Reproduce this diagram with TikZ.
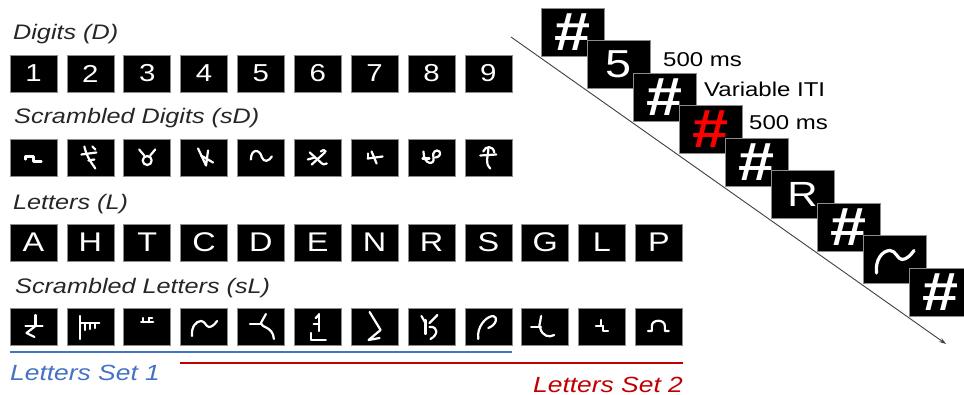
\documentclass[tikz,border=0pt]{standalone}
\usepackage{fontspec}
\setmainfont{Liberation Sans}[FakeStretch=1.2]
\usetikzlibrary{arrows.meta}
\definecolor{setblue}{HTML}{4472C4}
\definecolor{setred}{HTML}{C00000}
\definecolor{boxedge}{HTML}{8C8C8C}
\definecolor{labelgray}{HTML}{262626}
\definecolor{arrowgray}{HTML}{404040}
\newcommand\hashsign{\fontsize{54}{54}\selectfont\bfseries\#}
\begin{document}
\begin{tikzpicture}[x=1pt,y=-1pt,
  stim/.style={fill=black,draw=boxedge,line width=0.6pt,minimum width=47pt,minimum height=37pt,inner sep=0pt,text=white},
  digitstim/.style={stim,font=\fontsize{24.5}{25}\selectfont},
  letterstim/.style={stim,font=\fontsize{27}{27}\selectfont},
  tstim/.style={fill=black,draw=boxedge,line width=0.6pt,minimum width=63pt,minimum height=48pt,inner sep=0pt,text=white},
  rowlabel/.style={anchor=base west,inner sep=0pt,text=labelgray,font=\fontsize{21}{25}\selectfont\itshape},
  setlabel/.style={anchor=base west,inner sep=0pt,font=\fontsize{22}{25}\selectfont\itshape},
  timelabel/.style={anchor=base west,inner sep=0pt,text=black,font=\fontsize{20}{24}\selectfont},
  glyph/.style={draw=white,line width=2.2pt,line cap=round,line join=round},
  bigglyph/.style={draw=white,line width=3.2pt,line cap=round,line join=round},
  % scrambled digits
  gdA/.pic={\draw[glyph] (-8,2)--(-8,-1)--(0,-1)--(0,4)--(8,4);},
  gdB/.pic={\draw[glyph] (-6,-11) .. controls (-4,-2) and (0,4) .. (5,11);
            \draw[glyph] (-9,-3) -- (6,-5);
            \draw[glyph] (2,-11) -- (5,-8);
            \draw[glyph] (-2,3) -- (4,2);},
  gdC/.pic={\draw[glyph] (-8,-8)--(-3,-2); \draw[glyph] (8,-8)--(3,-2);
            \draw[glyph] (0,3) circle (4.5);},
  gdD/.pic={\draw[glyph] (-6,-9)--(2,8)--(4,-7); \draw[glyph] (-3,-2)--(9,5);},
  gdE/.pic={\draw[glyph] (-10,2) .. controls (-10,-9) and (-1,-9) .. (1,0) .. controls (3,5) and (8,4) .. (11,-1);},
  gdF/.pic={\draw[glyph] (-8,-5) -- (2,4) .. controls (5,7) and (7,8) .. (9,6);
            \draw[glyph] (-6,7) -- (7,-5);
            \draw[glyph] (-10,2) -- (-3,0);
            \draw[glyph] (3,-6) .. controls (5,-8) and (7,-8) .. (8,-6);},
  gdG/.pic={\draw[glyph] (-7,1)--(8,-1); \draw[glyph] (-3,-6)--(2,6); \draw[glyph] (-7,-4)--(-7,1);},
  gdH/.pic={\draw[glyph] (-8,-6) .. controls (-8,8) and (4,8) .. (2,0) .. controls (0,-5) and (5,-9) .. (8,-6) .. controls (10,-3) and (7,0) .. (4,0);
            \draw[glyph] (-9,1) -- (-2,1);},
  gdI/.pic={\draw[glyph] (-5,-6) .. controls (-3,-12) and (5,-12) .. (6,-5);
            \draw[glyph] (-8,-2)--(8,-3);
            \draw[glyph] (0,-9) .. controls (0,0) and (-4,5) .. (2,11);},
  % scrambled letters
  glA/.pic={\draw[glyph] (2,-12)--(2,-1); \draw[glyph] (-8,-1)--(9,-1); \draw[glyph] (2,-1)--(-7,6)--(1,10);},
  glB/.pic={\draw[glyph] (-10,-11)--(-10,12); \draw[glyph] (-10,-4)--(9,-4);
            \draw[glyph] (-5,-4)--(-5,3); \draw[glyph] (0,-4)--(0,2); \draw[glyph] (5,-4)--(5,1);},
  glC/.pic={\draw[glyph] (-6,-5)--(6,-5); \draw[glyph] (-4,-9)--(-4,-5); \draw[glyph] (2,-9)--(2,-5); \draw[glyph] (2,-9)--(5,-9);},
  glD/.pic={\draw[glyph] (-12,9) .. controls (-13,0) and (-8,-6) .. (-3,-6) .. controls (1,-6) and (2,0) .. (5,0) .. controls (8,0) and (11,-3) .. (13,-6);},
  glE/.pic={\draw[glyph] (-11,-3)--(0,-3); \draw[glyph] (5,-13) -- (0,-4) .. controls (0,1) and (12,-1) .. (13,12);},
  glF/.pic={\draw[glyph] (1,-13)--(1,4); \draw[glyph] (-2,-9)--(1,-12); \draw[glyph] (-4,-3)--(1,-3);
            \draw[glyph] (-7,6)--(-7,13)--(8,13);},
  glG/.pic={\draw[glyph] (-5,-15)--(6,3)--(-6,13)--(5,11);},
  glH/.pic={\draw[glyph] (-10,-11)--(-6,-4); \draw[glyph] (-6,-7)--(-6,7); \draw[glyph] (6,-12)--(-2,-4);
            \draw[glyph] (-2,0) .. controls (7,-1) and (7,8) .. (-1,12);},
  glI/.pic={\draw[glyph] (-10,12) .. controls (-12,0) and (-2,-11) .. (5,-11) .. controls (10,-10) and (8,-2) .. (0,1);},
  glJ/.pic={\draw[glyph] (-4,-11)--(-6,0); \draw[glyph] (-14,0)--(-4,0); \draw[glyph] (-5,1) .. controls (-3,9) and (4,11) .. (9,8);},
  glK/.pic={\draw[glyph] (-6,-1)--(1,-1); \draw[glyph] (-1,-7)--(-1,-1); \draw[glyph] (1,-1)--(1,4)--(6,4);},
  glL/.pic={\draw[glyph] (-11,4)--(-7,4)--(-7,-1) .. controls (-7,-8) and (6,-8) .. (6,-1) -- (6,4)--(10,4);},
  glDbig/.pic={\draw[bigglyph] (-12,9) .. controls (-13,0) and (-8,-6) .. (-3,-6) .. controls (1,-6) and (2,0) .. (5,0) .. controls (8,0) and (11,-3) .. (13,-6);}
]
\clip (0,0) rectangle (964,395);
\fill[white] (0,0) rectangle (964,395);

% ---------- left panel ----------
\node[rowlabel] (labD) at (13,39.5) {Digits (D)};
\foreach \t [count=\i from 0] in {1,2,3,4,5,6,7,8,9}
  \node[digitstim] (d\i) at ({33.5+56.85*\i},73.5) {\t};

\node[rowlabel] (labsD) at (14,124) {Scrambled Digits (sD)};
\foreach \i in {0,...,8}
  \node[stim] (sd\i) at ({33.5+56.85*\i},157.5) {};
\pic at (sd0) {gdA};
\pic at (sd1) {gdB};
\pic at (sd2) {gdC};
\pic at (sd3) {gdD};
\pic at (sd4) {gdE};
\pic at (sd5) {gdF};
\pic at (sd6) {gdG};
\pic at (sd7) {gdH};
\pic at (sd8) {gdI};

\node[rowlabel] (labL) at (13,210) {Letters (L)};
\foreach \t [count=\i from 0] in {A,H,T,C,D,E,N,R,S,G,L,P}
  \node[letterstim] (l\i) at ({33.5+56.85*\i},242.5) {\t};

\node[rowlabel] (labsL) at (15,294) {Scrambled Letters (sL)};
\foreach \i in {0,...,11}
  \node[stim] (sl\i) at ({33.5+56.85*\i},327) {};
\pic at (sl0) {glA};
\pic at (sl1) {glB};
\pic at (sl2) {glC};
\pic at (sl3) {glD};
\pic at (sl4) {glE};
\pic at (sl5) {glF};
\pic at (sl6) {glG};
\pic at (sl7) {glH};
\pic at (sl8) {glI};
\pic at (sl9) {glJ};
\pic at (sl10) {glK};
\pic at (sl11) {glL};

\coordinate (b0) at (10,352);
\coordinate (b1) at (512,352);
\coordinate (r0) at (180,363);
\coordinate (r1) at (683,363);
\draw[setblue,line width=1.6pt] (b0) -- (b1);
\draw[setred,line width=1.6pt] (r0) -- (r1);
\node[setlabel,text=setblue] (set1) at (10,380) {Letters Set 1};
\node[setlabel,text=setred] (set2) at (533,392) {Letters Set 2};

% ---------- timeline ----------
\coordinate (a0) at (511,37);
\coordinate (a1) at (946,344);
\draw[arrowgray,line width=0.9pt,-{Stealth[length=7pt,width=4.5pt]}] (a0) -- (a1);

\node[tstim] (t0) at ({572.5+46*0},{32+32.5*0}) {\hashsign};
\node[tstim,font=\fontsize{39}{39}\selectfont] (t1) at ({572.5+46*1},{32+32.5*1}) {5};
\node[tstim] (t2) at ({572.5+46*2},{32+32.5*2}) {\hashsign};
\node[tstim,text=red] (t3) at ({572.5+46*3},{32+32.5*3}) {\hashsign};
\node[tstim] (t4) at ({572.5+46*4},{32+32.5*4}) {\hashsign};
\node[tstim,font=\fontsize{35}{35}\selectfont] (t5) at ({572.5+46*5},{32+32.5*5}) {R};
\node[tstim] (t6) at ({572.5+46*6},{32+32.5*6}) {\hashsign};
\node[tstim] (t7) at ({572.5+46*7},{32+32.5*7}) {};
\pic[scale=1.5] at (t7) {glDbig};
\node[tstim] (t8) at ({572.5+46*8},{32+32.5*8}) {\hashsign};

\node[timelabel] (lab1) at (663,67) {500 ms};
\node[timelabel] (lab2) at (704,97) {Variable ITI};
\node[timelabel] (lab3) at (749,130) {500 ms};
\end{tikzpicture}
\end{document}
